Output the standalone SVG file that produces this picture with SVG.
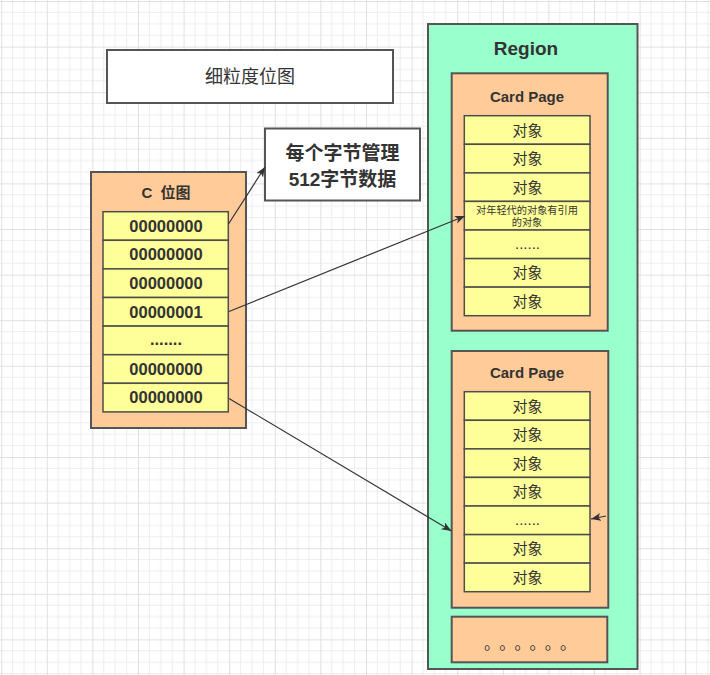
<svg xmlns="http://www.w3.org/2000/svg" width="710" height="675" viewBox="0 0 710 675">
<defs>
<pattern id="grid" patternUnits="userSpaceOnUse" x="1.2" y="1" width="45.6" height="45.6">
<path d="M11.4 0V45.6M22.8 0V45.6M34.2 0V45.6M0 11.4H45.6M0 22.8H45.6M0 34.2H45.6" stroke="#ededed" stroke-width="1" fill="none"/>
<path d="M0.5 0V45.6M0 0.5H45.6" stroke="#e0e0e0" stroke-width="1" fill="none"/>
</pattern>
<marker id="arr" markerUnits="userSpaceOnUse" markerWidth="12" markerHeight="10" refX="10" refY="4" orient="auto">
<path d="M0,0 L10,4 L0,8 L2.5,4 z" fill="#333"/>
</marker>
<style>
text{font-family:"Liberation Sans","Noto Sans CJK SC",sans-serif;fill:#333;text-anchor:middle}
.cjk{font-family:"Noto Sans CJK SC",sans-serif}
.box{stroke:#555;stroke-width:2}
.cell{fill:#ffff99;stroke:#4d4d4d;stroke-width:1.5}
.peach{fill:#ffcc99}
.b{font-weight:bold}
.bits{font-weight:bold;font-size:16.5px}
.obj{font-size:15px}
.line{fill:none;stroke:#333;stroke-width:1.2;marker-end:url(#arr)}
</style>
</defs>
<rect width="710" height="675" fill="#ffffff"/>
<rect width="710" height="675" fill="url(#grid)"/>

<g id="fine-bitmap">
<rect x="107" y="50" width="286" height="53" fill="#ffffff" class="box"/>
<text x="250" y="83" style="font-size:18px">细粒度位图</text>
</g>

<g id="note">
<rect x="265" y="128.5" width="155" height="72" fill="#ffffff" class="box"/>
<text x="342.5" y="160" class="b" style="font-size:19px">每个字节管理</text>
<text x="342.5" y="186" class="b" style="font-size:19px">512字节数据</text>
</g>

<g id="c-bitmap">
<rect x="91" y="172" width="155" height="256" class="peach box"/>
<text x="166" y="198" class="b" style="font-size:15px" xml:space="preserve">C  位图</text>
<rect x="103" y="211.7" width="125.3" height="28.6" class="cell"/>
<rect x="103" y="240.3" width="125.3" height="28.6" class="cell"/>
<rect x="103" y="268.9" width="125.3" height="28.6" class="cell"/>
<rect x="103" y="297.5" width="125.3" height="28.6" class="cell"/>
<rect x="103" y="326.1" width="125.3" height="28.6" class="cell"/>
<rect x="103" y="354.7" width="125.3" height="28.6" class="cell"/>
<rect x="103" y="383.3" width="125.3" height="28.6" class="cell"/>
<text x="166" y="231.8" class="bits">00000000</text>
<text x="166" y="260.4" class="bits">00000000</text>
<text x="166" y="289" class="bits">00000000</text>
<text x="166" y="317.6" class="bits">00000001</text>
<text x="166" y="345" class="bits">.......</text>
<text x="166" y="374.8" class="bits">00000000</text>
<text x="166" y="403.4" class="bits">00000000</text>
</g>

<g id="region">
<rect x="428" y="24" width="209.5" height="645" fill="#99ffcc" class="box"/>
<text x="526" y="55" class="b" style="font-size:19px">Region</text>
</g>

<g id="card-page-1">
<rect x="451.7" y="73.3" width="156" height="257.4" class="peach box"/>
<text x="527" y="102" class="b" style="font-size:15px">Card Page</text>
<rect x="464.3" y="115.7" width="125.7" height="28.6" class="cell"/>
<rect x="464.3" y="144.3" width="125.7" height="28.6" class="cell"/>
<rect x="464.3" y="172.9" width="125.7" height="28.5" class="cell"/>
<rect x="464.3" y="201.4" width="125.7" height="28.6" class="cell"/>
<rect x="464.3" y="230" width="125.7" height="28.6" class="cell"/>
<rect x="464.3" y="258.6" width="125.7" height="28.5" class="cell"/>
<rect x="464.3" y="287.1" width="125.7" height="28.6" class="cell"/>
<text x="527.5" y="135.5" class="obj">对象</text>
<text x="527.5" y="164" class="obj">对象</text>
<text x="527.5" y="192.5" class="obj">对象</text>
<text x="527" y="214" style="font-size:10.2px">对年轻代的对象有引用</text>
<text x="527" y="225.8" style="font-size:10.2px">的对象</text>
<text x="527.5" y="249" class="obj">......</text>
<text x="527.5" y="278.2" class="obj">对象</text>
<text x="527.5" y="306.8" class="obj">对象</text>
</g>

<g id="card-page-2">
<rect x="451.7" y="351" width="156.6" height="256.7" class="peach box"/>
<text x="527" y="378" class="b" style="font-size:15px">Card Page</text>
<rect x="464.3" y="391.7" width="125.7" height="28.6" class="cell"/>
<rect x="464.3" y="420.3" width="125.7" height="28.6" class="cell"/>
<rect x="464.3" y="448.9" width="125.7" height="28.5" class="cell"/>
<rect x="464.3" y="477.4" width="125.7" height="28.6" class="cell"/>
<rect x="464.3" y="506" width="125.7" height="28.6" class="cell"/>
<rect x="464.3" y="534.6" width="125.7" height="28.5" class="cell"/>
<rect x="464.3" y="563.1" width="125.7" height="28.6" class="cell"/>
<text x="527.5" y="411.5" class="obj">对象</text>
<text x="527.5" y="440" class="obj">对象</text>
<text x="527.5" y="468.5" class="obj">对象</text>
<text x="527.5" y="497" class="obj">对象</text>
<text x="527.5" y="525" class="obj">......</text>
<text x="527.5" y="554.2" class="obj">对象</text>
<text x="527.5" y="582.8" class="obj">对象</text>
</g>

<g id="more-pages">
<rect x="451.7" y="616.7" width="155.6" height="45.6" class="peach box"/>
<text x="484 499.2 514.4 529.6 544.8 560" y="648.5" class="cjk" style="font-size:16px;text-anchor:start">。。。。。。</text>
</g>

<g id="connectors">
<path d="M228.5,224 L265,167" class="line"/>
<path d="M229,311.5 L465,216" class="line"/>
<path d="M229,398.5 L451.5,531" class="line"/>
<path d="M606,516 L591,519" class="line"/>
</g>
</svg>
